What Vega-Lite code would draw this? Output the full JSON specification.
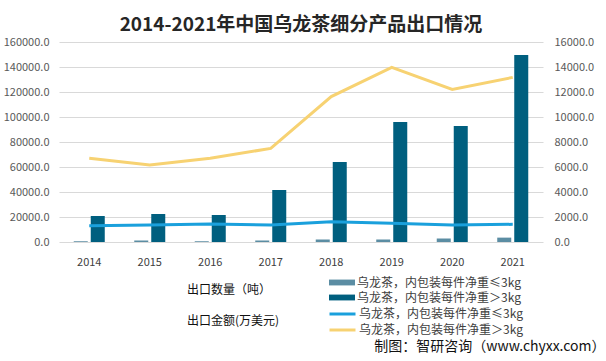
{
  "$schema": "https://vega.github.io/schema/vega-lite/v6.json",
  "width": 484,
  "height": 200,
  "autosize": {"type": "none"},
  "padding": {"left": 59, "top": 42, "right": 63, "bottom": 119},
  "background": "white",
  "title": {
    "text": "2014-2021年中国乌龙茶细分产品出口情况",
    "font": "Noto Sans CJK SC",
    "fontSize": 19,
    "fontWeight": "bold",
    "color": "#262626",
    "anchor": "middle",
    "offset": 1
  },
  "encoding": {
    "x": {
      "field": "year",
      "type": "ordinal",
      "scale": {"paddingInner": 0, "paddingOuter": 0},
      "axis": {
        "title": "制图：智研咨询（www.chyxx.com）",
        "titleFont": "Noto Sans CJK SC",
        "titleFontSize": 14,
        "titleFontWeight": "normal",
        "titleColor": "#111111",
        "titleAlign": "right",
        "titleAnchor": "end",
        "titleBaseline": "middle",
        "titleX": 546,
        "titleY": 104,
        "labelAngle": 0,
        "labelPadding": 14,
        "labelFontSize": 11,
        "labelColor": "#404040",
        "domain": false,
        "ticks": false
      }
    }
  },
  "layer": [
    {
      "data": {
        "values": [
          {"year": "2014", "type": "乌龙茶，内包装每件净重≤3kg", "qty": 600},
          {"year": "2014", "type": "乌龙茶，内包装每件净重＞3kg", "qty": 20800},
          {"year": "2015", "type": "乌龙茶，内包装每件净重≤3kg", "qty": 1200},
          {"year": "2015", "type": "乌龙茶，内包装每件净重＞3kg", "qty": 22400},
          {"year": "2016", "type": "乌龙茶，内包装每件净重≤3kg", "qty": 600},
          {"year": "2016", "type": "乌龙茶，内包装每件净重＞3kg", "qty": 21600},
          {"year": "2017", "type": "乌龙茶，内包装每件净重≤3kg", "qty": 1200},
          {"year": "2017", "type": "乌龙茶，内包装每件净重＞3kg", "qty": 41600},
          {"year": "2018", "type": "乌龙茶，内包装每件净重≤3kg", "qty": 2000},
          {"year": "2018", "type": "乌龙茶，内包装每件净重＞3kg", "qty": 64000},
          {"year": "2019", "type": "乌龙茶，内包装每件净重≤3kg", "qty": 2000},
          {"year": "2019", "type": "乌龙茶，内包装每件净重＞3kg", "qty": 96000},
          {"year": "2020", "type": "乌龙茶，内包装每件净重≤3kg", "qty": 2800},
          {"year": "2020", "type": "乌龙茶，内包装每件净重＞3kg", "qty": 92800},
          {"year": "2021", "type": "乌龙茶，内包装每件净重≤3kg", "qty": 3500},
          {"year": "2021", "type": "乌龙茶，内包装每件净重＞3kg", "qty": 149600}
        ]
      },
      "mark": {"type": "bar"},
      "encoding": {
        "xOffset": {
          "field": "type",
          "type": "nominal",
          "scale": {"paddingInner": 0.176, "paddingOuter": 0.867}
        },
        "y": {
          "field": "qty",
          "type": "quantitative",
          "scale": {"domain": [0, 160000], "nice": false},
          "axis": {
            "title": null,
            "orient": "left",
            "format": ".1f",
            "values": [0, 20000, 40000, 60000, 80000, 100000, 120000, 140000, 160000],
            "grid": true,
            "gridColor": "#D9D9D9",
            "domain": false,
            "ticks": false,
            "labelPadding": 10,
            "labelFontSize": 11,
            "labelColor": "#595959"
          }
        },
        "fill": {
          "field": "type",
          "type": "nominal",
          "scale": {"range": ["#5B8DA3", "#005F7F"]},
          "legend": {
            "orient": "none",
            "legendX": 128,
            "legendY": 234,
            "title": "出口数量（吨）",
            "titleOrient": "left",
            "titleAnchor": "middle",
            "titlePadding": 57,
            "symbolType": "M-1,-0.45H3V0.45H-1Z",
            "symbolSize": 169,
            "symbolStrokeWidth": 0,
            "labelOffset": 15
          }
        }
      }
    },
    {
      "data": {
        "values": [
          {"year": "2014", "type": "乌龙茶，内包装每件净重≤3kg", "amt": 1307},
          {"year": "2014", "type": "乌龙茶，内包装每件净重＞3kg", "amt": 6700},
          {"year": "2015", "type": "乌龙茶，内包装每件净重≤3kg", "amt": 1360},
          {"year": "2015", "type": "乌龙茶，内包装每件净重＞3kg", "amt": 6160},
          {"year": "2016", "type": "乌龙茶，内包装每件净重≤3kg", "amt": 1440},
          {"year": "2016", "type": "乌龙茶，内包装每件净重＞3kg", "amt": 6700},
          {"year": "2017", "type": "乌龙茶，内包装每件净重≤3kg", "amt": 1360},
          {"year": "2017", "type": "乌龙茶，内包装每件净重＞3kg", "amt": 7490},
          {"year": "2018", "type": "乌龙茶，内包装每件净重≤3kg", "amt": 1625},
          {"year": "2018", "type": "乌龙茶，内包装每件净重＞3kg", "amt": 11630},
          {"year": "2019", "type": "乌龙茶，内包装每件净重≤3kg", "amt": 1493},
          {"year": "2019", "type": "乌龙茶，内包装每件净重＞3kg", "amt": 13970},
          {"year": "2020", "type": "乌龙茶，内包装每件净重≤3kg", "amt": 1360},
          {"year": "2020", "type": "乌龙茶，内包装每件净重＞3kg", "amt": 12210},
          {"year": "2021", "type": "乌龙茶，内包装每件净重≤3kg", "amt": 1413},
          {"year": "2021", "type": "乌龙茶，内包装每件净重＞3kg", "amt": 13170}
        ]
      },
      "mark": {"type": "line", "strokeWidth": 3},
      "encoding": {
        "y": {
          "field": "amt",
          "type": "quantitative",
          "scale": {"domain": [0, 16000], "nice": false},
          "axis": {
            "title": null,
            "orient": "right",
            "format": ".1f",
            "values": [0, 2000, 4000, 6000, 8000, 10000, 12000, 14000, 16000],
            "grid": false,
            "domain": false,
            "ticks": false,
            "labelPadding": 11,
            "labelFontSize": 11,
            "labelColor": "#595959"
          }
        },
        "stroke": {
          "field": "type",
          "type": "nominal",
          "scale": {"range": ["#1AA0DC", "#F7D272"]},
          "legend": {
            "orient": "none",
            "legendX": 128,
            "legendY": 264,
            "title": "出口金额(万美元)",
            "titleOrient": "left",
            "titleAnchor": "middle",
            "titlePadding": 48,
            "symbolType": "M-1,0H3",
            "symbolSize": 169,
            "symbolStrokeWidth": 3,
            "labelOffset": 15
          }
        }
      }
    }
  ],
  "resolve": {"scale": {"y": "independent"}},
  "config": {
    "view": {"stroke": null},
    "font": "Noto Sans CJK SC",
    "axis": {"labelFont": "Noto Sans CJK SC"},
    "legend": {
      "padding": 0,
      "labelFont": "Noto Sans CJK SC",
      "labelFontSize": 12,
      "labelColor": "#404040",
      "titleFont": "Noto Sans CJK SC",
      "titleFontSize": 12,
      "titleFontWeight": "normal",
      "titleColor": "#111111",
      "labelLimit": 300,
      "rowPadding": 2
    }
  }
}
